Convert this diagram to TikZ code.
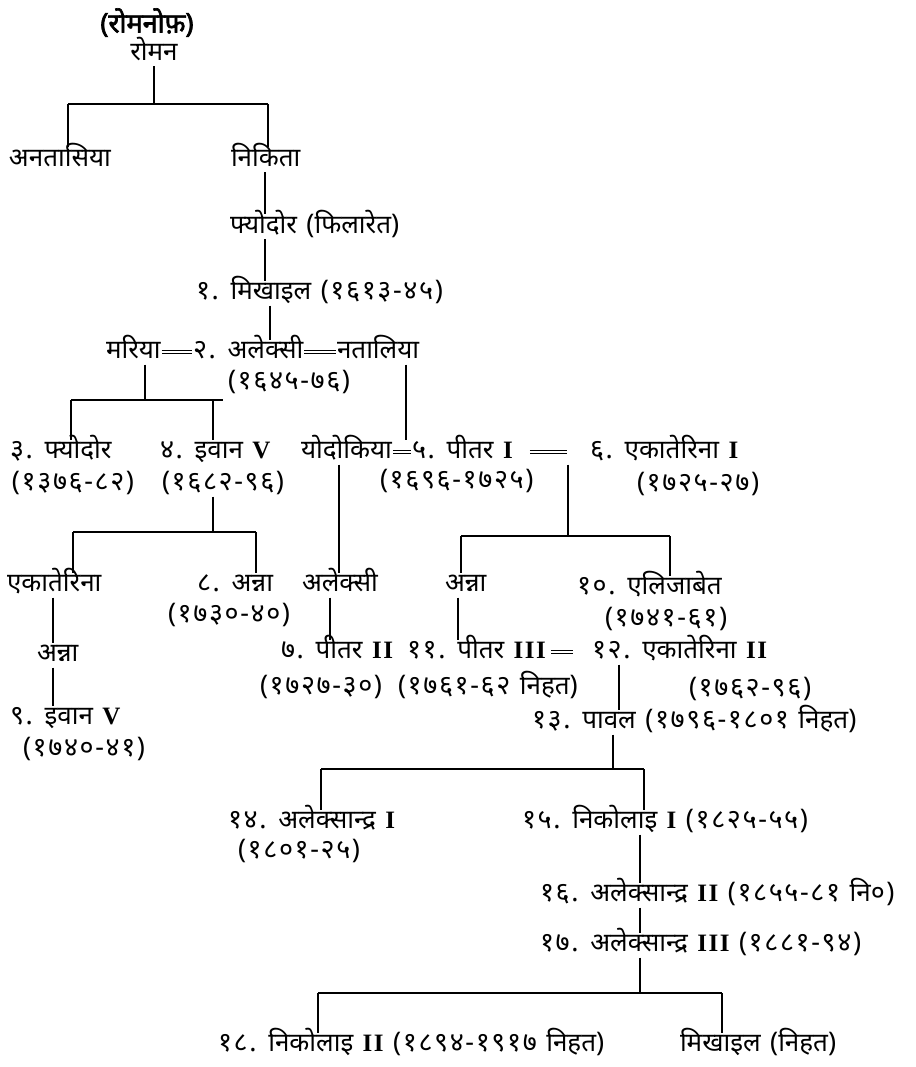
\documentclass[tikz,border=0pt]{standalone}
\usepackage{fontspec}
\setmainfont[Script=Devanagari]{Noto Sans}
\newfontfamily\dev[Script=Devanagari, WordSpace=1.4]{Noto Sans}
\newfontfamily\devbold[Script=Devanagari, FakeBold=2.5]{Noto Sans}
\newfontfamily\yrfont[Script=Devanagari, LetterSpace=6]{Noto Sans}
\newfontfamily\latf[LetterSpace=6]{Liberation Serif}
\newcommand{\rn}[1]{{\latf\bfseries\fontsize{25}{25}\selectfont #1}}
\newcommand{\yr}[1]{{\yrfont\fontsize{27}{28}\selectfont #1}}
\begin{document}
\begin{tikzpicture}[x=1pt,y=-1pt,
  lbl/.style={font=\dev\fontsize{26}{28}\selectfont, inner sep=1pt, outer sep=0pt, text height=18pt, text depth=5pt, anchor=west},
  ln/.style={line width=1.1pt},
  eqline/.style={double, double distance=2.4pt, line width=0.9pt}]
\useasboundingbox (0,0) rectangle (915,1067);
% ---------- nodes ----------
\node[lbl, anchor=center, font=\devbold\fontsize{27}{28}\selectfont] (romanof) at (147,26) {(रोमनोफ़)};
\node[lbl, anchor=center] (roman) at (154,54) {रोमन};
\node[lbl] (anastasia) at (8,160) {अनतासिया};
\node[lbl] (nikita) at (230,160) {निकिता};
\node[lbl] (fyodor) at (229,227) {फ्योदोर \yr{(}फिलारेत\yr{)}};
\node[lbl] (mikhail) at (195,293) {\yr{१.} मिखाइल \yr{(१६१३-४५)}};
\node[lbl] (mariya) at (105,352) {मरिया};
\node[lbl] (aleksi2) at (192,352) {\yr{२.} अलेक्सी};
\node[lbl] (natalia) at (336,352) {नतालिया};
\node[lbl] (aleksi2y) at (227,383) {\yr{(१६४५-७६)}};
\node[lbl] (fyodor3) at (9,452) {\yr{३.} फ्योदोर};
\node[lbl] (fyodor3y) at (11,484) {\yr{(१३७६-८२)}};
\node[lbl] (ivan4) at (159,452) {\yr{४.} इवान \rn{V}};
\node[lbl] (ivan4y) at (161,484) {\yr{(१६८२-९६)}};
\node[lbl] (yodokiya) at (300,452) {योदोकिया};
\node[lbl] (peter1) at (411,452) {\yr{५.} पीतर \rn{I}};
\node[lbl] (ekat1) at (589,452) {\yr{६.} एकातेरिना \rn{I}};
\node[lbl] (peter1y) at (379,482) {\yr{(१६९६-१७२५)}};
\node[lbl] (ekat1y) at (636,485) {\yr{(१७२५-२७)}};
\node[lbl] (ekatL) at (6,585) {एकातेरिना};
\node[lbl] (anna8) at (196,585) {\yr{८.} अन्ना};
\node[lbl] (anna8y) at (167,616) {\yr{(१७३०-४०)}};
\node[lbl] (aleksei) at (301,585) {अलेक्सी};
\node[lbl] (annaM) at (444,585) {अन्ना};
\node[lbl] (eliz) at (576,588) {\yr{१०.} एलिजाबेत};
\node[lbl] (elizy) at (604,620) {\yr{(१७४१-६१)}};
\node[lbl] (annaL) at (36,655) {अन्ना};
\node[lbl, anchor=east] (peter2) at (394,652) {\yr{७.} पीतर \rn{II}};
\node[lbl] (peter2y) at (259,688) {\yr{(१७२७-३०)}};
\node[lbl] (peter3) at (406,652) {\yr{११.} पीतर \rn{III}};
\node[lbl] (peter3y) at (397,688) {\yr{(१७६१-६२} निहत\yr{)}};
\node[lbl] (ekat2) at (591,652) {\yr{१२.} एकातेरिना \rn{II}};
\node[lbl] (ekat2y) at (688,690) {\yr{(१७६२-९६)}};
\node[lbl] (ivan9) at (9,718) {\yr{९.} इवान \rn{V}};
\node[lbl] (ivan9y) at (22,750) {\yr{(१७४०-४१)}};
\node[lbl] (pavel) at (531,722) {\yr{१३.} पावल \yr{(१७९६-१८०१} निहत\yr{)}};
\node[lbl] (alex1) at (227,822) {\yr{१४.} अलेक्सान्द्र \rn{I}};
\node[lbl] (alex1y) at (237,852) {\yr{(१८०१-२५)}};
\node[lbl] (nik1) at (521,822) {\yr{१५.} निकोलाइ \rn{I} \yr{(१८२५-५५)}};
\node[lbl] (alex2) at (539,895) {\yr{१६.} अलेक्सान्द्र \rn{II} \yr{(१८५५-८१} नि\yr{०)}};
\node[lbl] (alex3) at (539,945) {\yr{१७.} अलेक्सान्द्र \rn{III} \yr{(१८८१-९४)}};
\node[lbl] (nik2) at (217,1045) {\yr{१८.} निकोलाइ \rn{II} \yr{(१८९४-१९१७} निहत\yr{)}};
\node[lbl] (mikhailN) at (679,1045) {मिखाइल \yr{(}निहत\yr{)}};
% ---------- helper coordinates ----------
\coordinate (b1m) at (154,104); \coordinate (b1l) at (68,104); \coordinate (b1r) at (268,104);
\coordinate (x265) at (265,0); \coordinate (x270) at (270,0);
\coordinate (b2m) at (145,400); \coordinate (b2l) at (71,400); \coordinate (b2r) at (223,400); \coordinate (x213) at (213,0);
\coordinate (x406) at (406,0);
\coordinate (b3m) at (213,532); \coordinate (b3l) at (73,532); \coordinate (b3r) at (256,532);
\coordinate (x339) at (339,0);
\coordinate (b4m) at (568,536); \coordinate (b4l) at (461,536); \coordinate (b4r) at (670,536);
\coordinate (x53) at (53,0); \coordinate (x330) at (330,0); \coordinate (x458) at (458,0); \coordinate (x619) at (619,0);
\coordinate (b5m) at (613,769); \coordinate (b5l) at (321,769); \coordinate (b5r) at (644,769);
\coordinate (x640) at (640,0);
\coordinate (b6m) at (640,993); \coordinate (b6l) at (318,993); \coordinate (b6r) at (722,993);
% ---------- connectors ----------
\draw[ln] (b1m |- roman.south) -- (b1m);
\draw[ln] (b1l) -- (b1r);
\draw[ln] (b1l) -- (b1l |- anastasia.north);
\draw[ln] (b1r) -- (b1r |- nikita.north);
\draw[ln] (x265 |- nikita.south) -- (x265 |- fyodor.north);
\draw[ln] (x265 |- fyodor.south) -- (x265 |- mikhail.north);
\draw[ln] (x270 |- mikhail.south) -- (x270 |- aleksi2.north);
\draw[eqline] (mariya.east) -- (aleksi2.west);
\draw[eqline] (aleksi2.east) -- (natalia.west);
\draw[ln] (b2m |- mariya.south) -- (b2m);
\draw[ln] (b2l) -- (b2r);
\draw[ln] (b2l) -- (b2l |- fyodor3.north);
\draw[ln] (x213 |- b2m) -- (x213 |- ivan4.north);
\draw[ln] (x406 |- natalia.south) -- (x406 |- peter1.north);
\draw[eqline] (yodokiya.east) -- (peter1.west);
\draw[eqline, shorten <=16pt, shorten >=22pt] (peter1.east) -- (ekat1.west);
\draw[ln] (b3m |- ivan4y.south) -- (b3m);
\draw[ln] (b3l) -- (b3r);
\draw[ln] (b3l) -- (b3l |- ekatL.north);
\draw[ln] (b3r) -- (b3r |- anna8.north);
\draw[ln] (x339 |- yodokiya.south) -- (x339 |- aleksei.north);
\draw[ln] (b4m |- peter1.south) -- (b4m);
\draw[ln] (b4l) -- (b4r);
\draw[ln] (b4l) -- (b4l |- annaM.north);
\draw[ln] (b4r) -- (b4r |- eliz.north);
\draw[ln] (x53 |- ekatL.south) -- (x53 |- annaL.north);
\draw[ln] (x53 |- annaL.south) -- (x53 |- ivan9.north);
\draw[ln] (x330 |- aleksei.south) -- (x330 |- peter2.north);
\draw[ln] (x458 |- annaM.south) -- (x458 |- peter3.north);
\draw[eqline, shorten <=4pt, shorten >=18pt] (peter3.east) -- (ekat2.west);
\draw[ln] (x619 |- ekat2.south) -- (x619 |- pavel.north);
\draw[ln] (b5m |- pavel.south) -- (b5m);
\draw[ln] (b5l) -- (b5r);
\draw[ln] (b5l) -- (b5l |- alex1.north);
\draw[ln] (b5r) -- (b5r |- nik1.north);
\draw[ln] (x640 |- nik1.south) -- (x640 |- alex2.north);
\draw[ln] (x640 |- alex2.south) -- (x640 |- alex3.north);
\draw[ln] (x640 |- alex3.south) -- (b6m);
\draw[ln] (b6l) -- (b6r);
\draw[ln] (b6l) -- (b6l |- nik2.north);
\draw[ln] (b6r) -- (b6r |- mikhailN.north);
\end{tikzpicture}
\end{document}
